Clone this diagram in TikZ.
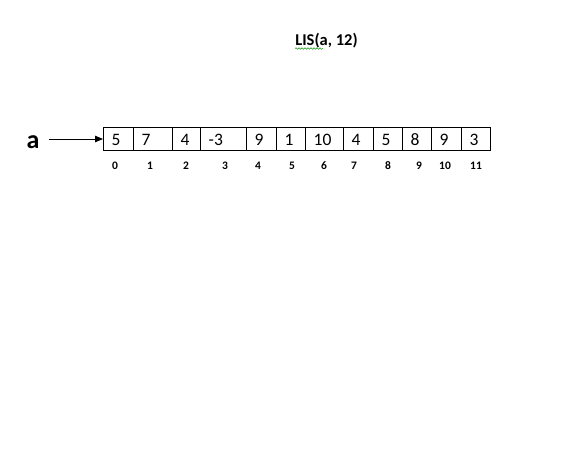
\documentclass[tikz,border=0pt]{standalone}
\usepackage{fontspec}
\setmainfont{Carlito}
\usetikzlibrary{arrows.meta,decorations.pathmorphing}
\begin{document}
\begin{tikzpicture}[x=1pt,y=-1pt,
 cell/.style={draw,line width=0.8pt,minimum height=23pt,inner sep=0pt,outer sep=0pt,anchor=north west},
 val/.style={anchor=base west,inner sep=0pt,font=\fontsize{17.5}{19}\selectfont},
 idx/.style={anchor=base,inner sep=0pt,font=\bfseries\fontsize{11.5}{12}\selectfont},
 arr/.style={line width=0.8pt,-{Triangle[length=8pt,width=6.5pt]}},
 squiggle/.style={draw=green!55!black,line width=0.5pt,decorate,decoration={snake,amplitude=0.8pt,segment length=3pt}}
]
\useasboundingbox[fill=white] (0,0) rectangle (580,461);
\node[anchor=base,inner sep=0pt,font=\bfseries\fontsize{16.5}{18}\selectfont] (title) at (326.5,45) {LIS(a, 12)};
\coordinate (sq) at ([yshift=-3.5pt]title.base west);
\draw[squiggle] (sq) -- ++(28,0);
\foreach \xl/\xr/\v/\ix/\n [count=\i from 0] in {103/133/5/115/0,133/172/7/150/1,172/200/4/186/2,200/246/-3/225/3,246/276/9/258/4,276/305/1/292/5,305/343/10/324/6,343/373/4/354/7,373/402/5/388/8,402/431/8/419/9,431/461/9/445/10,461/490/3/476/11}{
  \node[cell,minimum width={\xr pt-\xl pt}] (c\i) at (\xl,127.5) {};
  \node[val] (v\i) at ([xshift=8.5pt,yshift=-6pt]c\i.west) {\v};
  \node[idx] (i\i) at (\ix,169) {\n};
}
\node[anchor=base west,inner sep=0pt,font=\bfseries\fontsize{26}{28}\selectfont] (a) at (26.5,148.3) {a};
\coordinate (s) at ([xshift=9pt]a.east);
\draw[arr] (s |- c0.west) -- (c0.west);
\end{tikzpicture}
\end{document}
